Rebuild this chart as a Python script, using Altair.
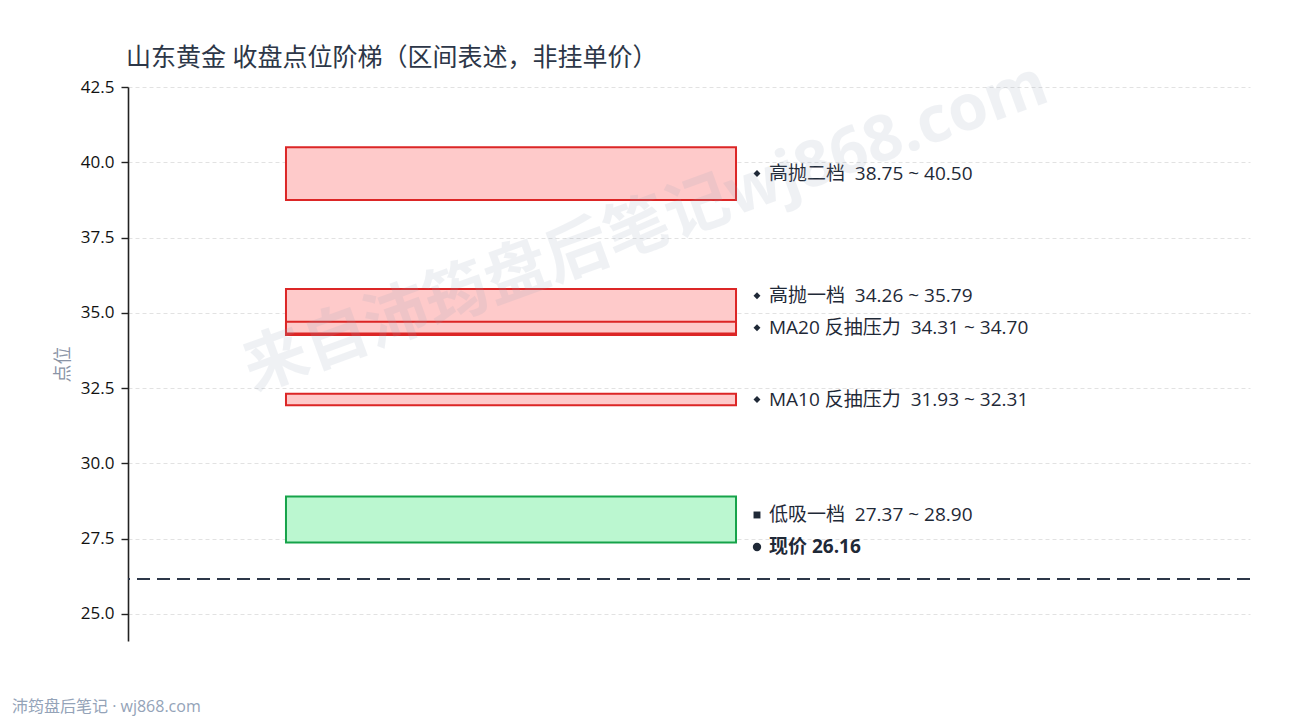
import altair as alt
import pandas as pd

# ---- data ----
names = ["高抛二档", "高抛一档", "MA20 反抽压力", "MA10 反抽压力", "低吸一档"]
lows = [38.75, 34.26, 34.31, 31.93, 27.37]
highs = [40.50, 35.79, 34.70, 32.31, 28.90]
kinds = ["sell", "sell", "sell", "sell", "buy"]
current_price = 26.16

title_text = "山东黄金 收盘点位阶梯（区间表述，非挂单价）"
footer_text = "沛筠盘后笔记 · wj868.com"
watermark_text = "来自沛筠盘后笔记wj868.com"

# ---- layout ----
W, H = 1122, 554
y_dom = [24.1, 42.5]
px_per_unit = H / (y_dom[1] - y_dom[0])
gap_units = 32 / px_per_unit
FONT = "Open Sans, Noto Sans CJK SC"
NB = "\u00a0"

df = pd.DataFrame({"name": names, "low": lows, "high": highs, "kind": kinds})
df["order"] = range(len(df))
df["x0"] = 0.1408
df["x1"] = 0.5419
df["range"] = [f"{n}{NB}{NB}{l:.2f}{NB}~{NB}{h:.2f}" for n, l, h in zip(names, lows, highs)]
df["mid"] = (df["low"] + df["high"]) / 2

# label dodge (bottom-up) with the current-price label placed above its line
cur_label_y = current_price + gap_units
placed = [cur_label_y]
label_y = {}
for i in sorted(range(len(df)), key=lambda k: df.loc[k, "mid"]):
    y = max(df.loc[i, "mid"], placed[-1] + gap_units)
    label_y[i] = y
    placed.append(y)
df["ly"] = [label_y[i] for i in range(len(df))]
df["lx"] = 0.5606
df["shape"] = ["diamond" if k == "sell" else "square" for k in kinds]

color_scale_stroke = alt.Scale(domain=["sell", "buy"], range=["#dc2626", "#16a34a"])
color_scale_fill = alt.Scale(domain=["sell", "buy"], range=["#fecaca", "#bbf7d0"])

xs = alt.Scale(domain=[0, 1], nice=False, zero=False)
ys = alt.Scale(domain=y_dom, nice=False, zero=False)

base = alt.Chart(df)

rects = base.mark_rect(strokeWidth=2).encode(
    x=alt.X("x0:Q", scale=xs, axis=None),
    x2="x1:Q",
    y=alt.Y(
        "low:Q",
        scale=ys,
        axis=alt.Axis(
            title="点位",
            values=[25.0, 27.5, 30.0, 32.5, 35.0, 37.5, 40.0, 42.5],
            format=".1f",
            grid=True,
            gridColor="#e2e2e2",
            gridDash=[4, 3],
            gridWidth=1,
            domainColor="#222222",
            domainWidth=1.6,
            tickColor="#222222",
            tickSize=7,
            tickWidth=1.4,
            labelColor="#111111",
            labelFontSize=17,
            labelFont=FONT,
            labelPadding=7,
            titleColor="#8a94a6",
            titleFont=FONT,
            titleFontSize=18,
            titleFontWeight="normal",
            titlePadding=8,
        ),
    ),
    y2="high:Q",
    fill=alt.Fill("kind:N", scale=color_scale_fill, legend=None),
    stroke=alt.Stroke("kind:N", scale=color_scale_stroke, legend=None),
    order=alt.Order("order:Q"),
)

markers = base.mark_point(filled=True, size=48, color="#1f2937", opacity=1).encode(
    x=alt.X("lx:Q", scale=xs),
    y=alt.Y("ly:Q", scale=ys),
    shape=alt.Shape("shape:N", scale=None, legend=None),
)

labels = base.mark_text(
    align="left", baseline="middle", dx=12, fontSize=19, font=FONT, color="#1f2937"
).encode(
    x=alt.X("lx:Q", scale=xs),
    y=alt.Y("ly:Q", scale=ys),
    text="range:N",
)

cur_df = pd.DataFrame({"price": [current_price], "ly": [cur_label_y], "lx": [0.5606],
                       "txt": [f"现价{NB}{current_price:.2f}"]})
cur = alt.Chart(cur_df)
price_line = cur.mark_rule(color="#2d3748", strokeWidth=2.2, strokeDash=[13, 7]).encode(
    y=alt.Y("price:Q", scale=ys)
)
cur_marker = cur.mark_point(filled=True, shape="circle", size=70, color="#1f2937", opacity=1).encode(
    x=alt.X("lx:Q", scale=xs), y=alt.Y("ly:Q", scale=ys)
)
cur_label = cur.mark_text(
    align="left", baseline="middle", dx=12, fontSize=19, fontWeight="bold", font=FONT, color="#1f2937"
).encode(x=alt.X("lx:Q", scale=xs), y=alt.Y("ly:Q", scale=ys), text="txt:N")

deco = pd.DataFrame({"t": [1]})
watermark = alt.Chart(deco).mark_text(
    text=watermark_text, fontSize=64, fontWeight="bold", font=FONT, color="#94a3b8",
    opacity=0.14, angle=340, align="center", baseline="middle",
).encode(x=alt.value(518), y=alt.value(141))

title = alt.Chart(deco).mark_text(
    text=title_text, fontSize=25, font=FONT, color="#2d3748", align="left", baseline="middle",
).encode(x=alt.value(-2), y=alt.value(-29))

footer = alt.Chart(deco).mark_text(
    text=footer_text, fontSize=16, font=FONT, color="#94a3b8", align="left", baseline="middle",
).encode(x=alt.value(-116), y=alt.value(620))

chart = alt.layer(
    rects, price_line, markers, labels, cur_marker, cur_label, watermark, title, footer
).properties(
    width=W,
    height=H,
    autosize=alt.AutoSizeParams(type="none"),
    padding={"left": 120, "top": 79, "right": 30, "bottom": 80},
).configure_view(stroke=None)

chart.save("out.html", embed_options={"renderer": "svg", "actions": False})
